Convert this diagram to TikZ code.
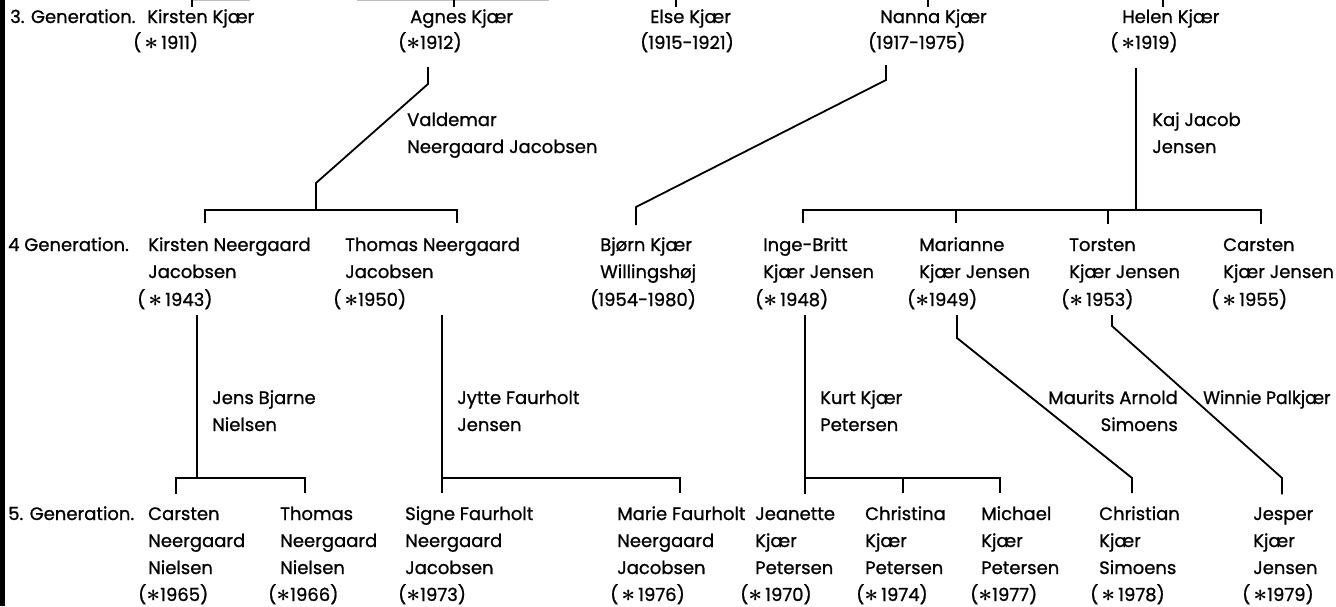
\documentclass[tikz,border=0pt]{standalone}
\usepackage{fontspec}
\newfontfamily\scanfont{Poppins}[FakeBold=1]
\usetikzlibrary{calc}
\newcommand{\born}{\scalebox{1.4}{\boldmath$\ast$}}
\tikzset{
  who/.style={anchor=base west, align=left, inner sep=0pt, font=\scanfont\fontsize{18}{27}\selectfont},
  when/.style={anchor=base west, inner sep=0pt, text depth=4pt, font=\scanfont\fontsize{18}{27}\selectfont},
  spouse/.style={anchor=base west, align=left, inner sep=0pt, font=\scanfont\fontsize{18}{27}\selectfont},
  link/.style={line width=1.8pt}
}

\begin{document}
\begin{tikzpicture}[x=1pt,y=-1pt]
			%%%%% FRAME %%%%%
			\useasboundingbox (0,0) rectangle (1336,606);
			\fill[black] (0,0) rectangle (5,606);
			\draw[black!25, line width=1.2pt] (192,0.8) -- (250,0.8);
			\draw[black!25, line width=1.2pt] (357,0.8) -- (549,0.8);
			
			%%%%% 3. GENERATION %%%%%
			\node[spouse] (gen3) at (10,23) {3. Generation.};
			\node[who] (kirstenK) at (147,23) {Kirsten Kjær};
			\node[when] (kirstenKD) at (133,49) {(\,\born\,1911)};
			\node[who] (agnes) at (410,23) {Agnes Kjær};
			\node[when] (agnesD) at (398,49) {(\born1912)};
			\node[who] (else) at (650,23) {Else Kjær};
			\node[when] (elseD) at (640,49) {(1915-1921)};
			\node[who] (nanna) at (880,23) {Nanna Kjær};
			\node[when] (nannaD) at (868,49) {(1917-1975)};
			\node[who] (helen) at (1122,23) {Helen Kjær};
			\node[when] (helenD) at (1110,49) {(\,\born1919)};
			
			\coordinate (cK) at (192,0);
			\coordinate (cA) at (454,0);
			\coordinate (cE) at (676,0);
			\coordinate (cN) at (928,0);
			\coordinate (cH) at (1163,0);
			\draw[link, shorten >=2.5pt] (cK) -- (cK |- kirstenK.north);
			\draw[link, shorten >=2.5pt] (cA) -- (cA |- agnes.north);
			\draw[link, shorten >=2.5pt] (cE) -- (cE |- else.north);
			\draw[link, shorten >=2.5pt] (cN) -- (cN |- nanna.north);
			\draw[link, shorten >=2.5pt] (cH) -- (cH |- helen.north);
			
			\node[spouse] (valdemar) at (407,153) {Valdemar\\Neergaard Jacobsen};
			\node[spouse] (kaj) at (1152,153) {Kaj Jacob\\Jensen};
			
			%%%%% 4. GENERATION %%%%%
			\node[spouse] (gen4) at (8,251) {4 Generation.};
			\node[who] (kirstenN) at (148,278) {Kirsten Neergaard\\Jacobsen};
			\node[when] (kirstenND) at (137,306) {(\,\born\,1943)};
			\node[who] (thomasN) at (345,278) {Thomas Neergaard\\Jacobsen};
			\node[when] (thomasND) at (333,306) {(\,\born1950)};
			\node[who] (bjorn) at (600,278) {Bjørn Kjær\\Willingshøj};
			\node[when] (bjornD) at (590,306) {(1954-1980)};
			\node[who] (inge) at (763,278) {Inge-Britt\\Kjær Jensen};
			\node[when] (ingeD) at (755,306) {(\born\,1948)};
			\node[who] (marianne) at (919,278) {Marianne\\Kjær Jensen};
			\node[when] (marianneD) at (907,306) {(\born1949)};
			\node[who] (torsten) at (1069,278) {Torsten\\Kjær Jensen};
			\node[when] (torstenD) at (1061,306) {(\born\,1953)};
			\node[who] (carsten4) at (1223,278) {Carsten\\Kjær Jensen};
			\node[when] (carsten4D) at (1211,306) {(\,\born\,1955)};
			
			% Agnes and Valdemar
			\coordinate (agA) at (428,84);
			\coordinate (agB) at (316,183);
			\coordinate (fam4L) at (205,210);
			\coordinate (fam4R) at (457,210);
			\draw[link, shorten <=14pt] (agnesD.south -| agA) -- (agA) -- (agB) -- (agB |- fam4L);
			\draw[link, shorten <=14pt, shorten >=14pt] (kirstenN.north -| fam4L) -- (fam4L) -- (fam4R) -- (fam4R |- thomasN.north);
			
			% Nanna
			\coordinate (naA) at (886,80);
			\coordinate (naB) at (636,207);
			\draw[link, shorten <=12pt, shorten >=12pt] (nannaD.south -| naA) -- (naA) -- (naB) -- (naB |- bjorn.north);
			
			% Helen and Kaj
			\coordinate (heA) at (1136,210);
			\coordinate (fam4a) at (803,210);
			\coordinate (fam4b) at (956,210);
			\coordinate (fam4c) at (1108,210);
			\coordinate (fam4d) at (1261,210);
			\draw[link, shorten <=15pt] (helenD.south -| heA) -- (heA);
			\draw[link, shorten <=14pt, shorten >=14pt] (inge.north -| fam4a) -- (fam4a) -- (fam4d) -- (fam4d |- carsten4.north);
			\draw[link, shorten >=14pt] (fam4b) -- (fam4b |- marianne.north);
			\draw[link, shorten >=14pt] (fam4c) -- (fam4c |- torsten.north);
			
			\node[spouse] (jens) at (212,431) {Jens Bjarne\\Nielsen};
			\node[spouse] (jytte) at (457,431) {Jytte Faurholt\\Jensen};
			\node[spouse] (kurt) at (820,431) {Kurt Kjær\\Petersen};
			\node[spouse, anchor=base east, align=right] (maurits) at (1178,431) {Maurits Arnold\\Simoens};
			\node[spouse] (winnie) at (1203,404) {\scalebox{0.96}[1]{Winnie Palkjær}};
			
			%%%%% 5. GENERATION %%%%%
			\node[spouse] (gen5) at (8,520) {5. Generation.};
			\node[who] (carsten5) at (148,574) {Carsten\\Neergaard\\Nielsen};
			\node[when] (carsten5D) at (138,601) {(\born1965)};
			\node[who] (thomas5) at (280,574) {Thomas\\Neergaard\\Nielsen};
			\node[when] (thomas5D) at (268,601) {(\born1966)};
			\node[who] (signe) at (405,574) {Signe Faurholt\\Neergaard\\Jacobsen};
			\node[when] (signeD) at (398,601) {(\born1973)};
			\node[who] (marie) at (617,574) {Marie Faurholt\\Neergaard\\Jacobsen};
			\node[when] (marieD) at (610,601) {(\,\born\,1976)};
			\node[who] (jeanette) at (755,574) {Jeanette\\Kjær\\Petersen};
			\node[when] (jeanetteD) at (740,601) {(\born\,1970)};
			\node[who] (christina) at (865,574) {Christina\\Kjær\\Petersen};
			\node[when] (christinaD) at (856,601) {(\born\,1974)};
			\node[who] (michael) at (981,574) {Michael\\Kjær\\Petersen};
			\node[when] (michaelD) at (970,601) {(\born1977)};
			\node[who] (christian) at (1099,574) {Christian\\Kjær\\Simoens};
			\node[when] (christianD) at (1090,601) {(\,\born\,1978)};
			\node[who] (jesper) at (1253,574) {Jesper\\Kjær\\Jensen};
			\node[when] (jesperD) at (1242,601) {(\,\born1979)};
			
			% Kirsten and Jens
			\coordinate (kiA) at (197,478);
			\coordinate (fam5a) at (176,478);
			\coordinate (fam5b) at (305,478);
			\draw[link, shorten <=5pt] (kirstenND.south -| kiA) -- (kiA);
			\draw[link, shorten <=13pt, shorten >=13pt] (carsten5.north -| fam5a) -- (fam5a) -- (fam5b) -- (fam5b |- thomas5.north);
			
			% Thomas and Jytte
			\coordinate (thA) at (442,478);
			\coordinate (fam5c) at (680,478);
			\draw[link, shorten <=5pt, shorten >=13pt] (thomasND.south -| thA) -- (thA) -- (thA |- signe.north);
			\draw[link, shorten >=13pt] (thA) -- (fam5c) -- (fam5c |- marie.north);
			
			% Inge-Britt and Kurt
			\coordinate (inA) at (805,478);
			\coordinate (fam5d) at (903,478);
			\coordinate (fam5e) at (1000,478);
			\draw[link, shorten <=5pt, shorten >=13pt] (ingeD.south -| inA) -- (inA |- jeanette.north);
			\draw[link, shorten >=13pt] (inA) -- (fam5e) -- (fam5e |- michael.north);
			\draw[link, shorten >=13pt] (fam5d) -- (fam5d |- christina.north);
			
			% Marianne and Maurits
			\coordinate (maA) at (957,338);
			\coordinate (maB) at (1132,478);
			\draw[link, shorten <=5pt, shorten >=13pt] (marianneD.south -| maA) -- (maA) -- (maB) -- (maB |- christian.north);
			
			% Torsten and Winnie
			\coordinate (toA) at (1112,326);
			\coordinate (toB) at (1282,478);
			\draw[link, shorten <=5pt, shorten >=13pt] (torstenD.south -| toA) -- (toA) -- (toB) -- (toB |- jesper.north);
			
			%%%%% END %%%%%
\end{tikzpicture}
\end{document}
